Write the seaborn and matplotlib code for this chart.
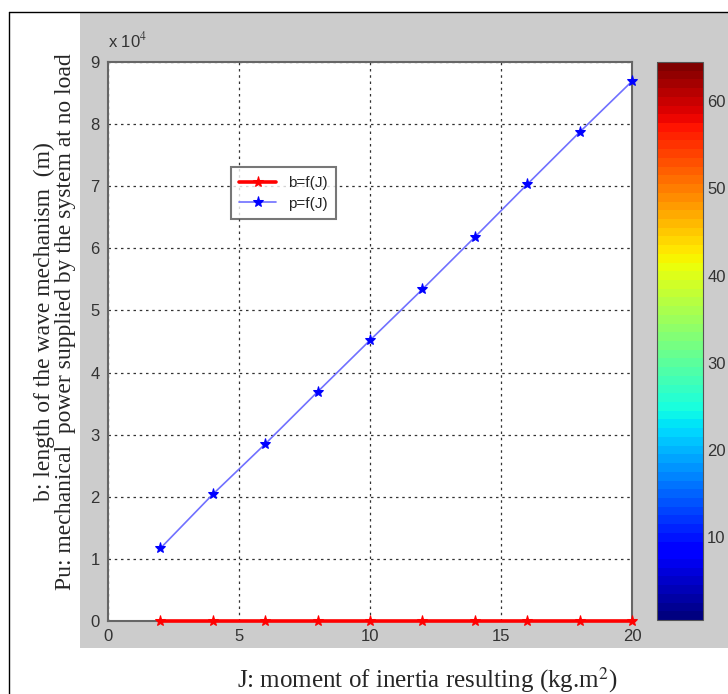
import matplotlib
matplotlib.use("Agg")
import matplotlib.pyplot as plt
import matplotlib as mpl
import seaborn as sns
import numpy as np
import pandas as pd
from matplotlib.patches import Rectangle
from matplotlib.lines import Line2D
from matplotlib.ticker import FuncFormatter

# Data
J = [2, 4, 6, 8, 10, 12, 14, 16, 18, 20]
P = [11700, 20400, 28500, 36900, 45200, 53400, 61800, 70300, 78700, 86900]
B = [0.4, 0.6, 0.8, 1.0, 1.2, 1.4, 1.6, 1.8, 2.0, 2.2]
x_ticks = [0, 5, 10, 15, 20]
y_ticks = [0, 1, 2, 3, 4, 5, 6, 7, 8, 9]
cbar_ticks = [10, 20, 30, 40, 50, 60]
legend_labels = ["b=f(J)", "p=f(J)"]
xlabel = "J: moment of inertia resulting (kg.m$^2$)"
ylabel = "b: length of the wave mechanism  (m)\nPu: mechanical  power supplied by the system at no load"

sns.set_style("white")
plt.rcParams['font.family'] = ['Liberation Sans', 'DejaVu Sans']
plt.rcParams['mathtext.fontset'] = 'stix'

W, H = 728, 694
fig = plt.figure(figsize=(W / 100, H / 100), dpi=100)
fig.patch.set_facecolor("white")

# gray panel and border
fig.patches.append(Rectangle((80 / W, 1 - 648 / H), (W - 80) / W, (648 - 12) / H,
                             transform=fig.transFigure, facecolor="#cccccc", edgecolor="none", zorder=-10))
fig.lines.append(Line2D([9 / W, 9 / W], [0, 1 - 12 / H], transform=fig.transFigure, color="black", lw=1, zorder=-5))
fig.lines.append(Line2D([9 / W, 1], [1 - 12 / H, 1 - 12 / H], transform=fig.transFigure, color="black", lw=1, zorder=-5))

ax = fig.add_axes([108 / W, 73 / H, 524 / W, 559 / H])
ax.set_facecolor("white")

df = pd.DataFrame({"J": J, "P": P, "B": B})
sns.lineplot(data=df, x="J", y="B", ax=ax, color="red", marker="*", markersize=8,
             markeredgecolor="red", lw=2.6, label=legend_labels[0], zorder=3, clip_on=False)
sns.lineplot(data=df, x="J", y="P", ax=ax, color="#7070ff", marker="*", markersize=8,
             markerfacecolor="blue", markeredgecolor="blue", lw=1.2, label=legend_labels[1], zorder=3,
             clip_on=False)

ax.set_xlim(0, 20)
ax.set_ylim(0, 90000)
ax.set_xticks(x_ticks)
ax.set_yticks([v * 1e4 for v in y_ticks])
ax.yaxis.set_major_formatter(FuncFormatter(lambda v, p: f"{v / 1e4:.0f}"))
ax.grid(True, color="#333333", linestyle=(0, (2, 3)), lw=0.9)
ax.tick_params(direction="in", length=4, labelsize=12, colors="#333333", labelcolor="#333333", pad=6)
for s in ax.spines.values():
    s.set_color("#666666")
    s.set_linewidth(1.5)
ax.set_xlabel("")
ax.set_ylabel("")
ax.text(0, 1.02, "x 10$^4$", transform=ax.transAxes, fontsize=12, color="#333333", ha="left", va="bottom")

leg = ax.legend(loc="upper left", bbox_to_anchor=(0.22, 0.825), frameon=True, fontsize=11,
                handlelength=2.4, borderpad=0.55, labelspacing=0.45, fancybox=False)
leg.get_frame().set_edgecolor("#555555")
leg.get_frame().set_linewidth(1.5)

fig.text(427 / W, 1 - 680 / H, xlabel, ha="center", va="center", fontsize=18, family="Liberation Serif")
fig.text(55 / W, 1 - 322 / H, ylabel, ha="center", va="center", rotation=90, fontsize=17,
         family="Liberation Serif", linespacing=1.05)

# colorbar
cax = fig.add_axes([657 / W, 74 / H, 46 / W, 558 / H])
norm = mpl.colors.Normalize(vmin=0.5, vmax=64.5)
cmap = plt.get_cmap("jet", 64)
cb = mpl.colorbar.ColorbarBase(cax, cmap=cmap, norm=norm, ticks=cbar_ticks)
cb.outline.set_edgecolor("#555555")
cax.tick_params(direction="in", length=4, labelsize=12, labelcolor="#333333", left=True, right=True, pad=3)

fig.savefig("out.png", dpi=100)
